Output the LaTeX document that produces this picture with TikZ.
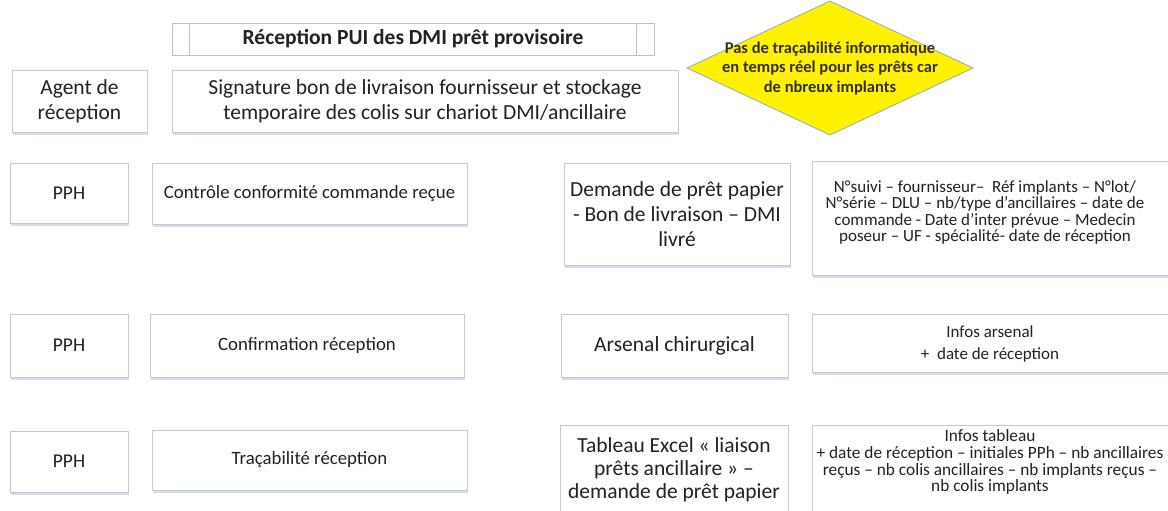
\documentclass[tikz,border=0pt]{standalone}
\usepackage{fontspec}
\setmainfont{Carlito}
\usetikzlibrary{shadows}
\definecolor{bord}{HTML}{C8C8C8}
\definecolor{tbord}{HTML}{B8C2CE}
\definecolor{txt}{HTML}{222222}
\definecolor{shad}{HTML}{D3DEEC}
\definecolor{dbord}{HTML}{9AA8BC}
\tikzset{
  box/.style={draw=bord, line width=0.9pt, fill=white, text=txt, align=center, inner sep=0pt,
    font=\fontsize{21.5}{25}\selectfont,
    drop shadow={shadow xshift=0.5pt, shadow yshift=-2.5pt, fill=shad, opacity=1}},
  mid/.style={font=\fontsize{18.8}{24}\selectfont},
  pph/.style={font=\fontsize{19.5}{24}\selectfont},
  small/.style={text=txt, align=center, inner sep=0pt, font=\fontsize{17}{#1}\selectfont},
  small/.default=15.5,
}
\begin{document}
\begin{tikzpicture}[x=1pt,y=-1pt]
\clip (0,0) rectangle (1168,511);
\fill[white] (0,0) rectangle (1168,511);

% title
\node[draw=tbord, line width=0.9pt, fill=white, minimum width=482pt, minimum height=32pt, inner sep=0pt,
  text=txt, font=\fontsize{21.5}{24}\selectfont\bfseries] (title) at (413,39) {Réception PUI des DMI prêt provisoire};
\draw[tbord, line width=0.9pt] ([xshift=18pt]title.north west) -- ([xshift=18pt]title.south west);
\draw[tbord, line width=0.9pt] ([xshift=-18pt]title.north east) -- ([xshift=-18pt]title.south east);

% diamond
\coordinate (dl) at (687,68);
\coordinate (dt) at (830,1);
\coordinate (dr) at (973,68);
\coordinate (db) at (830,135);
\draw[draw=dbord, fill=yellow, line width=0.8pt] (dl) -- (dt) -- (dr) -- (db) -- cycle;
\node[align=center, inner sep=0pt, text=black!85!olive, font=\fontsize{16.5}{19.5}\selectfont\bfseries] (dtext) at (830,68)
  {Pas de traçabilité informatique\\ en temps réel pour les prêts car\\ de nbreux implants};

% row 1
\node[box, minimum width=135pt, minimum height=62pt] (agent) at (79.5,101) {Agent de\\ réception};
\node[box, minimum width=506pt, minimum height=62pt] (sign) at (425,101) {Signature bon de livraison fournisseur et stockage\\ temporaire des colis sur chariot DMI/ancillaire};

% row 2
\node[box, pph, minimum width=118pt, minimum height=60pt] (pph1) at (69,193) {PPH};
\node[box, mid, minimum width=315pt, minimum height=61pt] (ctrl) at (309.5,193.5) {Contrôle conformité commande reçue};
\node[box, minimum width=226pt, minimum height=102pt] (dem) at (677,214) {Demande de prêt papier\\ - Bon de livraison -- DMI\\ livré};
\node[box, minimum width=358pt, minimum height=114pt] (suivi) at (991,218) {};
\node[small=16.5] (suivitxt) at (985,212.5) {N°suivi -- fournisseur--\ \ Réf implants -- N°lot/\\ N°série -- DLU -- nb/type d’ancillaires -- date de\\ commande - Date d’inter prévue -- Medecin\\ poseur -- UF - spécialité- date de réception};

% row 3
\node[box, pph, minimum width=118pt, minimum height=63pt] (pph2) at (69,345.5) {PPH};
\node[box, mid, minimum width=314pt, minimum height=63pt] (conf) at (307,345.5) {Confirmation réception};
\node[box, minimum width=227pt, minimum height=63pt] (ars) at (674.5,345.5) {Arsenal chirurgical};
\node[box, minimum width=358pt, minimum height=58pt] (infars) at (991,343) {};
\node[small=22] (infarstxt) at (990,344) {Infos arsenal\\ +\ \ date de réception};

% row 4
\node[box, pph, minimum width=118pt, minimum height=61pt] (pph3) at (69,461.5) {PPH};
\node[box, mid, minimum width=315pt, minimum height=60pt] (trac) at (309.5,460) {Traçabilité réception};
\node[box, minimum width=228pt, minimum height=100pt] (tab) at (674,475) {};
\node[small, font=\fontsize{21.5}{23}\selectfont] (tabtxt) at (674,470) {Tableau Excel « liaison\\ prêts ancillaire » --\\ demande de prêt papier};
\node[box, minimum width=358pt, minimum height=100pt] (inftab) at (991,475) {};
\node[small, font=\fontsize{17.3}{16.8}\selectfont] (inftabtxt) at (990,462) {Infos tableau\\ + date de réception -- initiales PPh -- nb ancillaires\\ reçus -- nb colis ancillaires -- nb implants reçus --\\ nb colis implants};
\end{tikzpicture}
\end{document}
